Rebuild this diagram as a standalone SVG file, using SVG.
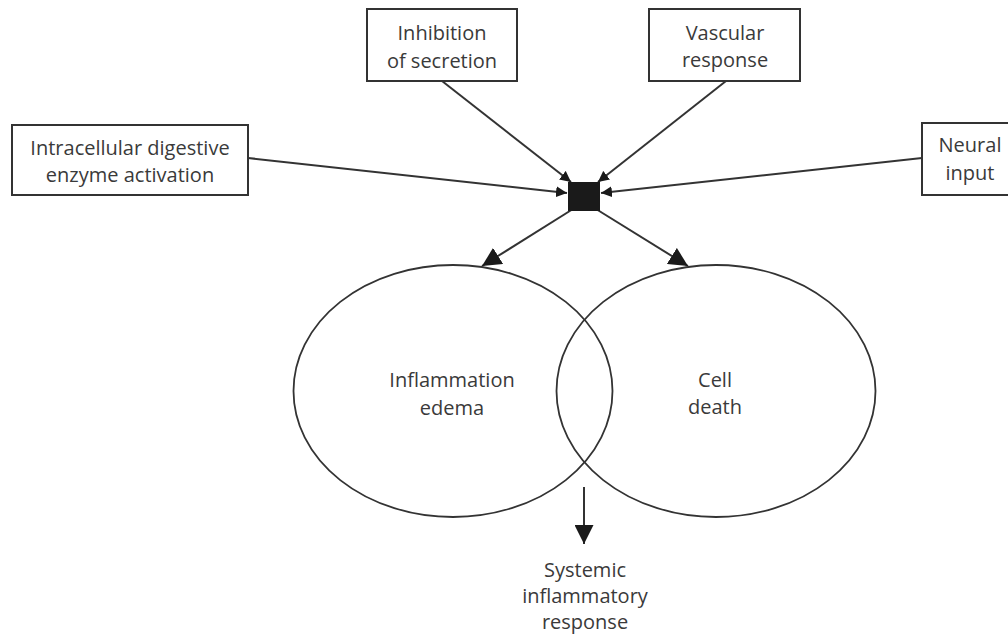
<svg xmlns="http://www.w3.org/2000/svg" width="1008" height="635" viewBox="0 0 1008 635">
<defs>
<style>
.box{fill:#fff;stroke:#333;stroke-width:2}
.t{font-family:"Open Sans","DejaVu Sans",sans-serif;font-size:20px;fill:#3a3a3a;text-anchor:middle}
.ln{stroke:#333;stroke-width:2;fill:none}
.ell{fill:none;stroke:#333;stroke-width:1.8}
</style>
<marker id="sm" viewBox="0 0 10 10" refX="10" refY="5" markerWidth="5.5" markerHeight="5.5" markerUnits="strokeWidth" orient="auto"><path d="M0,0 L10,5 L0,10 z" fill="#1a1a1a"/></marker>
<marker id="lg" viewBox="0 0 10 10" refX="10" refY="5" markerWidth="9.5" markerHeight="9.5" markerUnits="strokeWidth" orient="auto"><path d="M0,0 L10,5 L0,10 z" fill="#1a1a1a"/></marker>
</defs>
<rect width="1008" height="635" fill="#fff"/>
<g id="connectors">
<line class="ln" x1="442" y1="81" x2="571" y2="182" marker-end="url(#sm)"/>
<line class="ln" x1="726" y1="81" x2="598" y2="182" marker-end="url(#sm)"/>
<line class="ln" x1="248" y1="158" x2="567" y2="193" marker-end="url(#sm)"/>
<line class="ln" x1="922" y1="158" x2="601" y2="193" marker-end="url(#sm)"/>
<line class="ln" x1="573" y1="209" x2="482" y2="266" marker-end="url(#lg)"/>
<line class="ln" x1="596" y1="209" x2="688" y2="266" marker-end="url(#lg)"/>
<line class="ln" x1="584" y1="487" x2="584" y2="544" marker-end="url(#lg)"/>
</g>
<g id="hub"><rect x="568" y="182" width="32" height="29" fill="#1a1a1a"/></g>
<g id="node-intracellular">
<rect class="box" x="12" y="125" width="236" height="70"/>
<text class="t" x="130" y="155">Intracellular digestive</text>
<text class="t" x="130" y="182">enzyme activation</text>
</g>
<g id="node-inhibition">
<rect class="box" x="367" y="9" width="150" height="72"/>
<text class="t" x="442" y="40">Inhibition</text>
<text class="t" x="442" y="68">of secretion</text>
</g>
<g id="node-vascular">
<rect class="box" x="649" y="9" width="151" height="72"/>
<text class="t" x="725" y="40">Vascular</text>
<text class="t" x="725" y="67">response</text>
</g>
<g id="node-neural">
<rect class="box" x="922" y="123" width="100" height="72"/>
<text class="t" x="970" y="152">Neural</text>
<text class="t" x="970" y="180">input</text>
</g>
<g id="node-inflammation">
<ellipse class="ell" cx="453" cy="391" rx="159.5" ry="126"/>
<text class="t" x="452" y="387">Inflammation</text>
<text class="t" x="452" y="415">edema</text>
</g>
<g id="node-celldeath">
<ellipse class="ell" cx="716" cy="391" rx="159.5" ry="126"/>
<text class="t" x="715" y="387">Cell</text>
<text class="t" x="715" y="414">death</text>
</g>
<g id="node-systemic">
<text class="t" x="585" y="577">Systemic</text>
<text class="t" x="585" y="603">inflammatory</text>
<text class="t" x="585" y="629">response</text>
</g>
</svg>
